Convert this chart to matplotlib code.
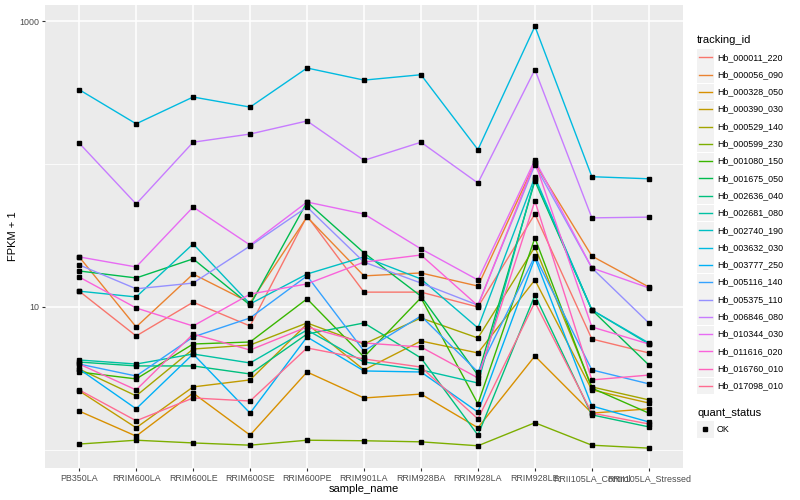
import numpy as np
import matplotlib
matplotlib.use("Agg")
import matplotlib.pyplot as plt
from matplotlib.lines import Line2D
from matplotlib.patches import Rectangle

plt.rcParams['font.family'] = ['Liberation Sans', 'DejaVu Sans']

samples = ["PB350LA", "RRIM600LA", "RRIM600LE", "RRIM600SE", "RRIM600PE",
           "RRIM901LA", "RRIM928BA", "RRIM928LA", "RRIM928LE",
           "RRII105LA_Control", "RRII105LA_Stressed"]

# FPKM + 1 per sample
hb_000011_220 = [12.9, 6.27, 10.8, 7.36, 43.3, 12.7, 12.7, 10.0, 44.7, 5.97, 4.77]
hb_000056_090 = [22.4, 7.25, 17.0, 10.7, 42.6, 16.5, 17.3, 14.0, 101.6, 22.7, 13.8]
hb_000328_050 = [1.87, 1.25, 2.50, 1.27, 3.51, 2.31, 2.46, 1.43, 4.54, 1.81, 1.94]
hb_000390_030 = [2.59, 1.43, 2.76, 3.09, 7.61, 3.63, 5.78, 4.77, 15.45, 2.63, 2.13]
hb_000529_140 = [3.68, 2.39, 5.08, 5.42, 7.73, 5.51, 8.38, 6.07, 26.3, 2.76, 2.24]
hb_000599_230 = [1.10, 1.17, 1.12, 1.08, 1.17, 1.16, 1.14, 1.07, 1.55, 1.08, 1.03]
hb_001080_150 = [3.51, 3.14, 5.51, 5.69, 11.4, 4.47, 11.6, 2.10, 30.4, 2.71, 1.81]
hb_001675_050 = [17.86, 15.96, 21.7, 10.3, 54.2, 23.9, 11.9, 3.34, 76.0, 9.53, 3.93]
hb_002636_040 = [4.12, 3.87, 3.87, 3.40, 6.47, 7.73, 4.40, 1.27, 12.1, 1.76, 1.45]
hb_002681_080 = [4.26, 3.99, 4.69, 4.06, 6.90, 4.12, 3.63, 2.94, 78.5, 9.53, 5.51]
hb_002740_190 = [12.9, 11.75, 27.6, 10.5, 17.0, 22.4, 15.7, 7.13, 81.1, 9.53, 5.60]
hb_003632_030 = [331, 191, 294, 250, 469, 386, 421, 126, 918, 81.5, 78.8]
hb_003777_250 = [3.68, 1.94, 4.69, 1.81, 6.17, 3.57, 3.51, 1.84, 22.0, 2.03, 1.57]
hb_005116_140 = [3.99, 3.29, 6.17, 8.38, 16.5, 4.92, 8.65, 3.51, 22.7, 3.63, 2.90]
hb_005375_110 = [19.7, 13.4, 14.7, 26.7, 50.0, 20.6, 14.7, 10.3, 98.4, 18.75, 7.73]
hb_006846_080 = [140, 52.5, 142, 162, 200, 106, 142, 73.6, 457, 42.0, 42.5]
hb_010344_030 = [22.4, 19.05, 50.0, 27.1, 54.2, 44.7, 25.5, 15.45, 106.6, 18.75, 13.6]
hb_011616_020 = [16.2, 9.84, 7.36, 12.3, 14.5, 20.6, 23.1, 10.2, 103.3, 7.25, 5.51]
hb_016760_010 = [3.99, 2.63, 6.47, 5.00, 7.25, 5.60, 5.25, 3.19, 55.1, 3.09, 3.34]
hb_017098_010 = [2.63, 1.60, 2.31, 2.20, 5.17, 4.33, 3.80, 1.65, 10.8, 1.81, 1.52]

tracking_ids = ["Hb_000011_220", "Hb_000056_090", "Hb_000328_050", "Hb_000390_030",
                "Hb_000529_140", "Hb_000599_230", "Hb_001080_150", "Hb_001675_050",
                "Hb_002636_040", "Hb_002681_080", "Hb_002740_190", "Hb_003632_030",
                "Hb_003777_250", "Hb_005116_140", "Hb_005375_110", "Hb_006846_080",
                "Hb_010344_030", "Hb_011616_020", "Hb_016760_010", "Hb_017098_010"]
fpkm = [hb_000011_220, hb_000056_090, hb_000328_050, hb_000390_030, hb_000529_140,
        hb_000599_230, hb_001080_150, hb_001675_050, hb_002636_040, hb_002681_080,
        hb_002740_190, hb_003632_030, hb_003777_250, hb_005116_140, hb_005375_110,
        hb_006846_080, hb_010344_030, hb_011616_020, hb_016760_010, hb_017098_010]

# ggplot default hue palette for 20 levels
colors = ["#F8766D", "#EA8331", "#D89000", "#C09B00", "#A3A500", "#7CAE00", "#39B600",
          "#00BB4E", "#00BF7D", "#00C1A3", "#00BFC4", "#00BAE0", "#00B0F6", "#35A2FF",
          "#9590FF", "#C77CFF", "#E76BF3", "#FA62DB", "#FF62BC", "#FF6C91"]

fig = plt.figure(figsize=(8, 5), dpi=100)
ax = fig.add_axes([45 / 800, 1 - 468 / 500, 638 / 800, 463 / 500])
ax.set_facecolor("#EBEBEB")

x = np.arange(len(samples))
for vals, col in zip(fpkm, colors):
    ax.plot(x, vals, color=col, lw=1.0, zorder=3)
for vals in fpkm:
    ax.plot(x, vals, ls="none", marker="s", ms=2.6, color="black", zorder=4)

ax.set_yscale("log")
ax.set_ylim(0.748, 1294)
ax.set_xlim(-0.6, len(samples) - 0.4)
ax.set_yticks([10, 1000])
ax.set_yticklabels(["10", "1000"])
ax.set_yticks([1, 100], minor=True)
ax.yaxis.set_minor_formatter(plt.NullFormatter())
ax.set_xticks(x)
ax.set_xticklabels(samples)

ax.grid(True, which="major", color="white", lw=1.1, zorder=0)
ax.grid(True, which="minor", axis="y", color="white", lw=0.55, zorder=0)
ax.set_axisbelow(True)
for s in ax.spines.values():
    s.set_visible(False)
ax.tick_params(axis="both", which="major", length=2.2, width=0.8, color="#333333",
               labelsize=6.4, labelcolor="#4D4D4D", pad=2)
ax.tick_params(axis="y", which="minor", length=0)

ax.set_xlabel("sample_name", fontsize=8, labelpad=1)
ax.set_ylabel("FPKM + 1", fontsize=8, labelpad=1)

# legend drawn by hand, ggplot style
fig.text(697 / 800, 1 - 40 / 500, "tracking_id", fontsize=8, va="center", ha="left")
row_h = 17.3
for i, (name, col) in enumerate(zip(tracking_ids, colors)):
    yc = 57.3 + i * row_h
    fig.add_artist(Rectangle((697 / 800, 1 - (yc + 8.4) / 500), 16.5 / 800, 16.8 / 500,
                             transform=fig.transFigure, facecolor="#F2F2F2", edgecolor="none"))
    fig.add_artist(Line2D([698.5 / 800, 712 / 800], [1 - yc / 500] * 2,
                          transform=fig.transFigure, color=col, lw=1.0))
    fig.text(717 / 800, 1 - yc / 500, name, fontsize=6.4, va="center", ha="left")

fig.text(697 / 800, 1 - 412.5 / 500, "quant_status", fontsize=8, va="center", ha="left")
yc = 429.3
fig.add_artist(Rectangle((697 / 800, 1 - (yc + 8.4) / 500), 16.5 / 800, 16.8 / 500,
                         transform=fig.transFigure, facecolor="#F2F2F2", edgecolor="none"))
fig.add_artist(Line2D([705 / 800], [1 - yc / 500], transform=fig.transFigure,
                      ls="none", marker="s", ms=2.6, color="black"))
fig.text(717 / 800, 1 - yc / 500, "OK", fontsize=6.4, va="center", ha="left")

fig.savefig("out.png", dpi=100)
